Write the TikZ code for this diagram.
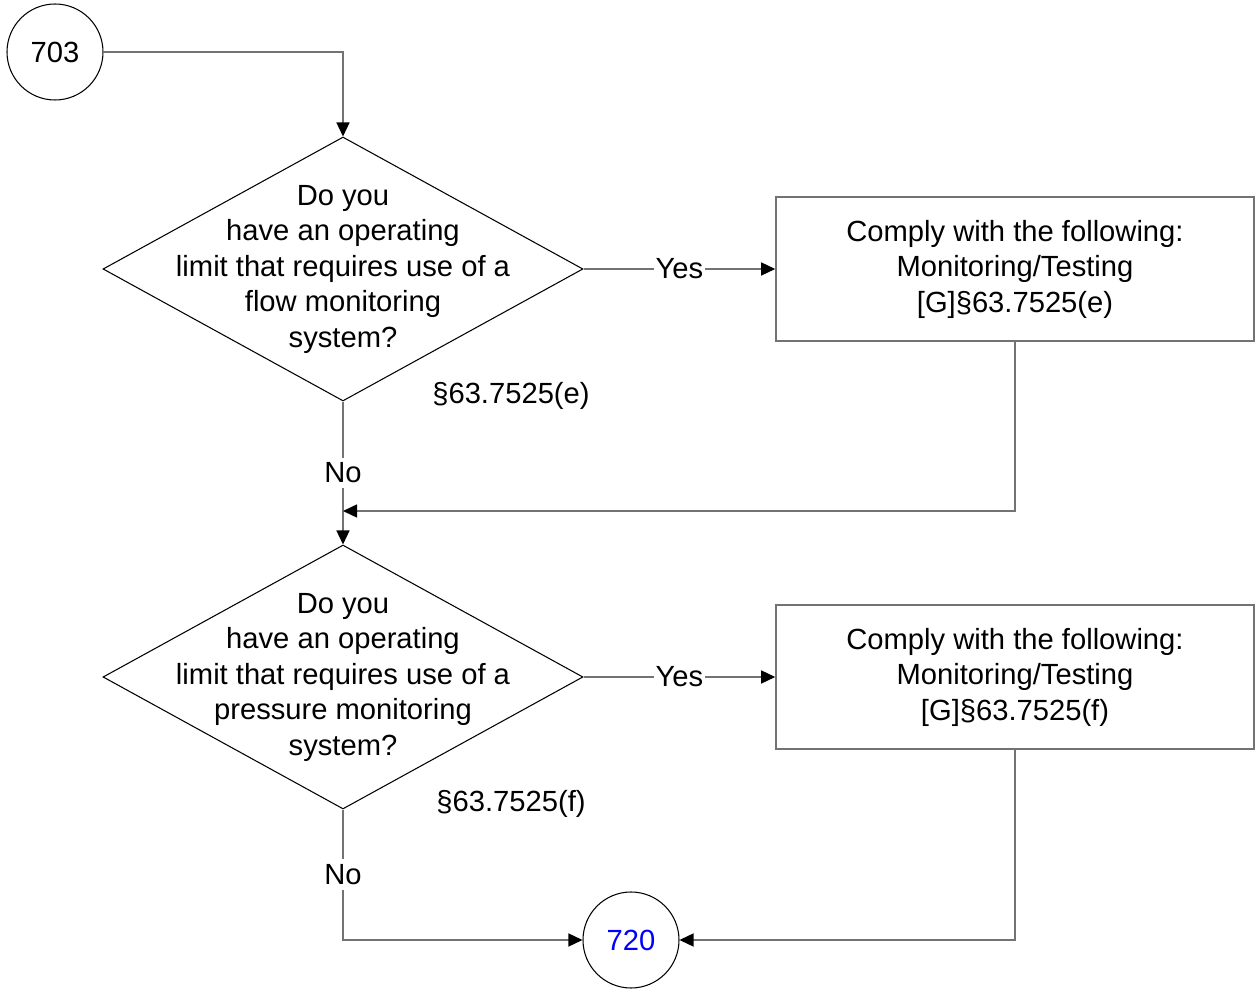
\documentclass[tikz,border=0pt]{standalone}
\usepackage{fontspec}
\setmainfont{Liberation Sans}
\usetikzlibrary{shapes.geometric,arrows.meta}

\definecolor{lgry}{RGB}{115, 115, 115}
\definecolor{mblu}{RGB}{0, 0, 255}

\begin{document}
\begin{tikzpicture}[
		font=\fontsize{16.6}{20.2}\selectfont,
		conn/.style={draw=black, circle, line width=0.6pt, minimum size=1.92cm, inner sep=0pt},
		ques/.style={draw=black, diamond, line width=0.6pt, minimum width=9.6cm, minimum height=5.28cm,
				inner xsep=-2.6cm, inner ysep=-1.2cm, align=center},
		act/.style={draw=lgry, line width=0.9pt, rectangle, minimum width=9.56cm, minimum height=2.88cm, align=center},
		flow/.style={draw=lgry, line width=0.85pt, -{Triangle[length=0.28cm, width=0.26cm, color=black]}},
		lbl/.style={fill=white, inner xsep=1pt, inner ysep=3pt}
	]
	\useasboundingbox (0,0) rectangle (25.1,-19.78);

	% --- start and end connectors ---
	\node[conn] (c703) at (1.1,-1.04) {703};
	\node[conn, text=mblu] (c720) at (12.62,-18.8) {720};

	% --- the two questions with their actions ---
	\foreach \i/\y/\what/\sub in {1/-5.38/flow/e, 2/-13.54/pressure/f} {
			\node[ques] (q\i) at (6.86,\y) {Do you\\have an operating\\limit that requires use of a\\\what{} monitoring\\system?};
			\node[act] (b\i) at (20.3,\y) {Comply with the following:\\Monitoring/Testing\\{}[G]§63.7525(\sub)};
			\node (s\i) at (10.22,\y-2.54) {§63.7525(\sub)};
			\draw[flow] (q\i.east) -- node[lbl] {Yes} (b\i.west);
		}

	\draw[flow] (c703.east) -| (q1.north);
	\draw[flow] (q1.south) -- node[lbl] {No} (q2.north);

	\coordinate (j1) at (6.86,-10.22);
	\draw[flow] (b1.south) |- (j1);

	\draw[flow] (q2.south) |- node[lbl, pos=0.25] {No} (c720.west);
	\draw[flow] (b2.south) |- (c720.east);

\end{tikzpicture}
\end{document}
